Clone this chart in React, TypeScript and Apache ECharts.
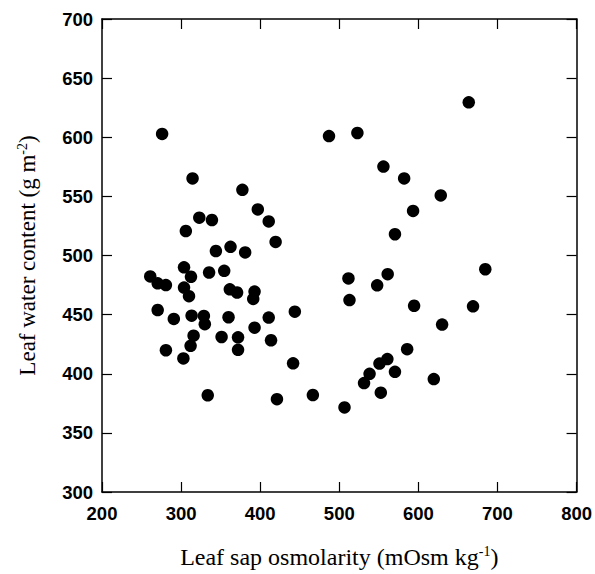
import React, { useEffect, useRef } from "react";
import * as echarts from "echarts";

const osmolarity: number[] = [
  276, 487, 314.5, 377.5, 397, 323, 339, 410.8, 306, 419.5, 344, 362.5, 381,
  303.7, 261, 312.5, 335.4, 354.5, 270.4, 280.8, 303.7, 310, 361.6, 370.8, 392.9, 391.2,
  270.4, 290.8, 313.3, 328.8, 330, 360, 410.8, 443.8, 392.9, 315.8, 351.2, 372, 413.7,
  312, 280.8, 372, 302.9, 441.6, 333.7, 421.2, 466.6,
  522.9, 663.7, 555.8, 582, 628.3, 593.3, 570.4,
  511.6, 561.2, 547.9, 512.9, 684.6, 594.6, 669.1, 630, 585.8, 560.8, 550.8, 538.3,
  570.4, 531.3, 619.5, 552.5, 506.6,
];
const waterContent: number[] = [
  602.8, 601, 565.2, 555.5, 539, 532, 530, 528.8, 520.7, 511.5, 503.8, 507.3, 502.6,
  490, 482.3, 482, 485.6, 487, 476.5, 475, 472.9, 465.6, 471.4, 468.7, 469.5, 463.3,
  453.9, 446.4, 449.1, 448.9, 441.9, 447.8, 447.5, 452.5, 439, 432.2, 431.1, 430.8, 428.3,
  423.6, 419.9, 420.2, 413, 408.8, 381.8, 378.5, 382,
  603.6, 629.5, 575.2, 565.2, 550.8, 537.7, 518,
  480.6, 484.2, 474.8, 462.3, 488.4, 457.5, 457, 441.6, 420.8, 412.4, 408.6, 399.9,
  401.6, 392.1, 395.5, 384, 371.5,
];

const xTitle = "Leaf sap osmolarity (mOsm kg";
const yTitle = "Leaf water content (g m";

export default function App() {
  const ref = useRef<HTMLDivElement>(null);
  useEffect(() => {
    if (!ref.current) return;
    const chart = echarts.init(ref.current, null, { renderer: "svg" });
    const points = osmolarity.map((x, i) => [x, waterContent[i]]);
    const tickLabel = {
      fontFamily: "Liberation Sans, Arial, sans-serif",
      fontSize: 18.5,
      fontWeight: "bold" as const,
      color: "#000",
    };
    const serif = "Liberation Serif, Times New Roman, serif";
    chart.setOption({
      animation: false,
      backgroundColor: "#fff",
      grid: { left: 102, right: 15, top: 19, bottom: 76 },
      xAxis: [
        {
          type: "value",
          min: 200,
          max: 800,
          interval: 100,
          position: "bottom",
          axisLine: { lineStyle: { color: "#000", width: 1.5 } },
          axisTick: { inside: true, length: 10, lineStyle: { color: "#000", width: 1.2 } },
          axisLabel: { ...tickLabel, margin: 12 },
          splitLine: { show: false },
          name: "{t|" + xTitle + "}{s|-1}{t|)}",
          nameLocation: "middle",
          nameGap: 52,
          nameTextStyle: {
            rich: {
              t: { fontFamily: serif, fontSize: 24, color: "#000" },
              s: { fontFamily: serif, fontSize: 14, color: "#000", verticalAlign: "top", padding: [0, 0, 12, 0] },
            },
          },
        },
        {
          type: "value",
          min: 200,
          max: 800,
          interval: 100,
          position: "top",
          axisLine: { lineStyle: { color: "#000", width: 1.5 } },
          axisTick: { inside: true, length: 10, lineStyle: { color: "#000", width: 1.2 } },
          axisLabel: { show: false },
          splitLine: { show: false },
        },
      ],
      yAxis: [
        {
          type: "value",
          min: 300,
          max: 700,
          interval: 50,
          position: "left",
          axisLine: { show: true, lineStyle: { color: "#000", width: 1.5 } },
          axisTick: { show: true, inside: true, length: 10, lineStyle: { color: "#000", width: 1.2 } },
          axisLabel: { ...tickLabel, margin: 9 },
          splitLine: { show: false },
          name: "{t|" + yTitle + "}{s|-2}{t|)}",
          nameLocation: "middle",
          nameGap: 62,
          nameTextStyle: {
            rich: {
              t: { fontFamily: serif, fontSize: 23, color: "#000" },
              s: { fontFamily: serif, fontSize: 14, color: "#000", verticalAlign: "top", padding: [0, 0, 11, 0] },
            },
          },
        },
        {
          type: "value",
          min: 300,
          max: 700,
          interval: 50,
          position: "right",
          axisLine: { show: true, lineStyle: { color: "#000", width: 1.5 } },
          axisTick: { show: true, inside: true, length: 10, lineStyle: { color: "#000", width: 1.2 } },
          axisLabel: { show: false },
          splitLine: { show: false },
        },
      ],
      series: [
        {
          type: "scatter",
          xAxisIndex: 0,
          yAxisIndex: 0,
          data: points,
          symbol: "circle",
          symbolSize: 12.5,
          itemStyle: { color: "#000", opacity: 1 },
        },
      ],
    });
    return () => chart.dispose();
  }, []);
  return <div ref={ref} style={{ width: 595, height: 574, position: "absolute", left: 0, top: 0 }} />;
}
